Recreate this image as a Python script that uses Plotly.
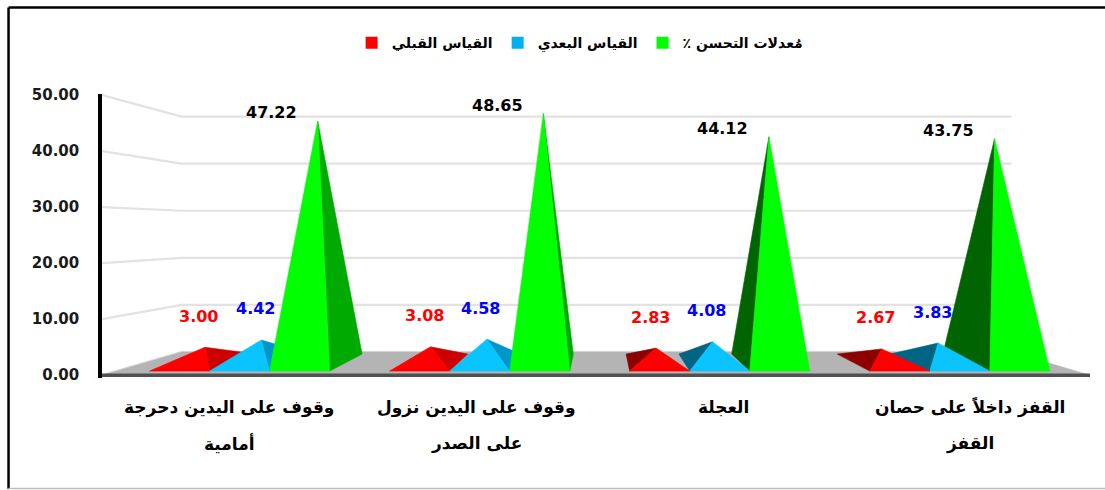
import plotly.graph_objects as go

# ---------------- data ----------------
categories = [
    "وقوف على اليدين دحرجة\nأمامية",
    "وقوف على اليدين نزول\nعلى الصدر",
    "العجلة",
    "القفز داخلاً على حصان\nالقفز",
]
series_names = ["القياس القبلي", "القياس البعدي", "مُعدلات التحسن ٪"]
pre_values = [3.00, 3.08, 2.83, 2.67]
post_values = [4.42, 4.58, 4.08, 3.83]
improve_values = [47.22, 48.65, 44.12, 43.75]
y_ticks = [0, 10, 20, 30, 40, 50]

series_values = [pre_values, post_values, improve_values]

# ---------------- style ----------------
front_colors = ["#FF0000", "#0AC4FF", "#00FF00"]
right_colors = ["#CC0000", "#0096C8", "#00AA00"]
left_colors = ["#8E0000", "#006482", "#006400"]
label_colors = ["#FF0000", "#0000FF", "#000000"]
legend_colors = ["#FF0000", "#00B0F0", "#00FF00"]

FONT = "DejaVu Sans"
XMIN, XMAX = -0.515, 3.485
YMIN, YMAX = -0.5, 50.2
VPX, VPY = 1.5, 26.0          # vanishing point (data units)
K_FRONT, K_BACK, K_WALL = 0.972, 0.855, 0.84
W = 0.25                      # pyramid width in category units
RLM = "\u200f"


def proj(x, v, k):
    return VPX + k * (x - VPX), VPY + k * (v - VPY)


fig = go.Figure()

# gridlines on the side wall and back wall
for t in y_ticks:
    p0 = (XMIN, t)
    p1 = proj(XMIN, t, K_WALL)
    p2 = proj(XMAX, t, K_WALL)
    fig.add_trace(go.Scatter(
        x=[p0[0], p1[0], p2[0]], y=[p0[1], p1[1], p2[1]], mode="lines",
        line=dict(color="#E2E2E2", width=2.2), hoverinfo="skip", showlegend=False))

# floor
f_bl = proj(XMIN, 0, K_WALL)
f_br = proj(XMAX, 0, K_WALL)
fig.add_trace(go.Scatter(
    x=[XMIN, XMAX, f_br[0], f_bl[0], XMIN], y=[0, 0, f_br[1], f_bl[1], 0],
    mode="lines", fill="toself", fillcolor="#B4B4B4",
    line=dict(color="#B4B4B4", width=0.5), hoverinfo="skip", showlegend=False))
fig.add_trace(go.Scatter(
    x=[XMIN, XMAX], y=[0, 0], mode="lines",
    line=dict(color="#505050", width=3.5), hoverinfo="skip", showlegend=False))


def poly(pts, color):
    xs = [p[0] for p in pts] + [pts[0][0]]
    ys = [p[1] for p in pts] + [pts[0][1]]
    fig.add_trace(go.Scatter(
        x=xs, y=ys, mode="lines", fill="toself", fillcolor=color,
        line=dict(color=color, width=0.6), hoverinfo="skip", showlegend=False))


annotations = []
k_mid = (K_FRONT + K_BACK) / 2
for i in range(len(categories)):
    centers = {s: i + (s - 1) * W for s in range(3)}
    order = sorted(range(3), key=lambda s: -abs(centers[s] - VPX))
    for s in order:
        v = series_values[s][i]
        xl = centers[s] - W / 2
        xr = centers[s] + W / 2
        FL = proj(xl, 0, K_FRONT)
        FR = proj(xr, 0, K_FRONT)
        BL = proj(xl, 0, K_BACK)
        BR = proj(xr, 0, K_BACK)
        AP = proj(centers[s], v, k_mid)
        if centers[s] < VPX:
            poly([FR, BR, AP], right_colors[s])
        else:
            poly([FL, BL, AP], left_colors[s])
        poly([FL, FR, AP], front_colors[s])
        if s == 2:
            xs_, ys_ = -46, 8
        else:
            xs_, ys_ = -6, 31
        annotations.append(dict(
            x=AP[0], y=AP[1], xref="x", yref="y", text=f"{v:.2f}", showarrow=False,
            xshift=xs_, yshift=ys_, xanchor="center", yanchor="middle",
            font=dict(family=FONT, size=16, color=label_colors[s], weight="bold")))

# category labels
for i, cat in enumerate(categories):
    for j, line in enumerate(cat.split("\n")):
        annotations.append(dict(
            x=i, y=0, xref="x", yref="y", text=line, showarrow=False,
            yshift=-32 - 36 * j, xanchor="center", yanchor="middle",
            font=dict(family=FONT, size=17, color="#000000", weight="bold")))

# legend entries
for s in range(3):
    fig.add_trace(go.Scatter(
        x=[None], y=[None], mode="markers", name=RLM + series_names[s] + RLM,
        marker=dict(symbol="square", size=11, color=legend_colors[s]),
        showlegend=True))

# chart frame
shapes = [
    dict(type="line", xref="paper", yref="paper", x0=-0.0946, x1=-0.0946, y0=-0.39, y1=1.305,
         line=dict(color="#000000", width=2.5)),
    dict(type="line", xref="paper", yref="paper", x0=-0.0946, x1=1.03, y0=1.305, y1=1.305,
         line=dict(color="#000000", width=2.5)),
    dict(type="line", xref="paper", yref="paper", x0=-0.0946, x1=1.03, y0=-0.389, y1=-0.389,
         line=dict(color="#BDBDBD", width=1.5)),
]

fig.update_layout(
    width=1105, height=490,
    autosize=False,
    margin=dict(l=102, r=15, t=94, b=112, autoexpand=False),
    paper_bgcolor="white", plot_bgcolor="white",
    showlegend=True,
    legend=dict(orientation="h", xref="container", yref="container",
                x=0.525, xanchor="center", y=0.912, yanchor="middle",
                font=dict(family=FONT, size=14, color="#000000", weight="bold"),
                itemsizing="constant", bgcolor="rgba(0,0,0,0)"),
    xaxis=dict(range=[XMIN, XMAX], visible=False, fixedrange=True),
    yaxis=dict(range=[YMIN, YMAX], tickvals=y_ticks, ticktext=[f"{t:.2f}" for t in y_ticks],
               showgrid=False, zeroline=False, showline=True, linecolor="#000000", linewidth=3.5,
               ticks="", ticklabelstandoff=16, automargin=False, fixedrange=True,
               tickfont=dict(family=FONT, size=15, color="#1A1A1A", weight="bold")),
    annotations=annotations,
    shapes=shapes,
)

fig.write_html("out.html", config={"displayModeBar": False},
               post_script="document.body.style.margin='0';")
